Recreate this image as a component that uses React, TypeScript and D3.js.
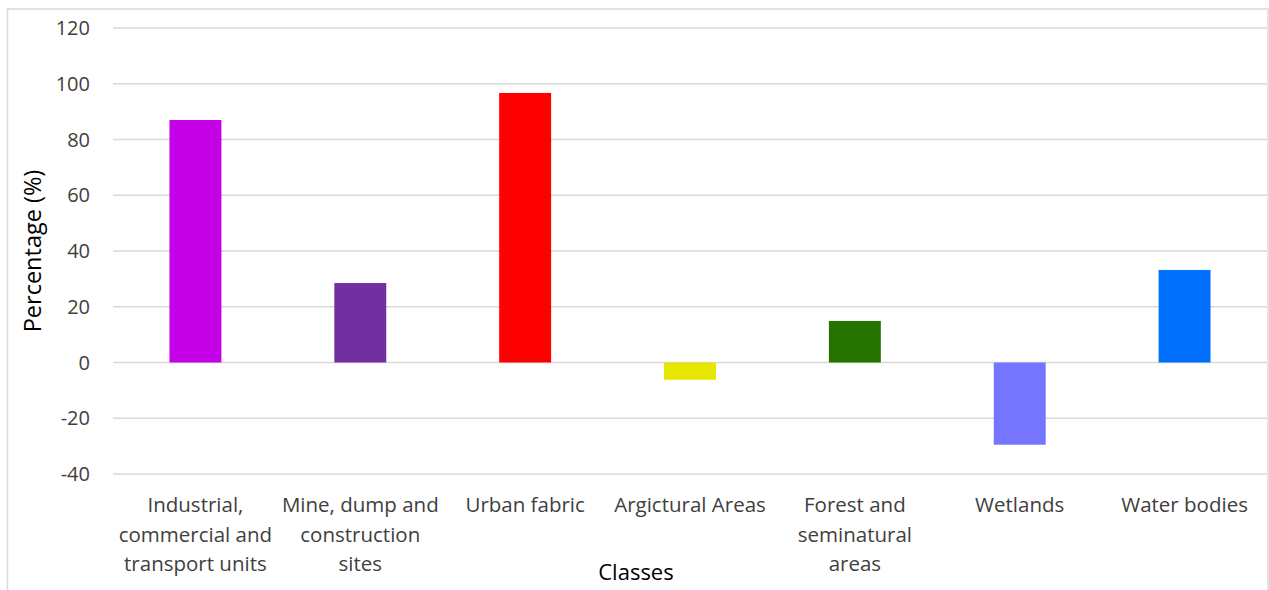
import React from "react";
import * as d3 from "d3";

const categories: string[][] = [
  ["Industrial,", "commercial and", "transport units"],
  ["Mine, dump and", "construction", "sites"],
  ["Urban fabric"],
  ["Argictural Areas"],
  ["Forest and", "seminatural", "areas"],
  ["Wetlands"],
  ["Water bodies"],
];
const values: number[] = [87.0, 28.5, 96.7, -6.2, 14.9, -29.5, 33.2];
const barColors: string[] = ["#C300E6", "#7030A0", "#FF0000", "#E6E600", "#267300", "#7575FF", "#0070FF"];
const yTicks: number[] = [-40, -20, 0, 20, 40, 60, 80, 100, 120];

const W = 1269;
const H = 590;
const FONT = "'Open Sans', Lato, sans-serif";

export default function App() {
  const left = 113;
  const right = 1267;
  const top = 28;
  const bottom = 474;

  const x = d3
    .scaleBand<number>()
    .domain(d3.range(values.length))
    .range([left, right])
    .paddingInner(0.685)
    .paddingOuter(0.3425);
  const y = d3.scaleLinear().domain([-40, 120]).range([bottom, top]);
  const band = (right - left) / values.length;

  return (
    <svg
      width={W}
      height={H}
      style={{ position: "absolute", left: 0, top: 0, background: "#fff" }}
      fontFamily={FONT}
    >
      <rect x={0} y={0} width={W} height={H} fill="#fff" />
      {/* chart frame */}
      <rect x={7.5} y={9} width={1260.5} height={600} fill="none" stroke="#d9d9d9" strokeWidth={1.5} />

      {/* gridlines */}
      {yTicks.map((t) => (
        <line key={"g" + t} x1={left} x2={right} y1={y(t)} y2={y(t)} stroke="#d9d9d9" strokeWidth={1.5} />
      ))}

      {/* y tick labels */}
      {yTicks.map((t) => (
        <text key={"t" + t} x={90} y={y(t)} dy="0.35em" textAnchor="end" fontSize={20} fill="#404040">
          {t}
        </text>
      ))}

      {/* bars */}
      {values.map((v, i) => (
        <rect
          key={"b" + i}
          x={x(i)}
          width={x.bandwidth()}
          y={Math.min(y(v), y(0))}
          height={Math.abs(y(v) - y(0))}
          fill={barColors[i]}
        />
      ))}

      {/* category labels */}
      {categories.map((lines, i) => (
        <text key={"c" + i} textAnchor="middle" fontSize={20.5} fill="#404040">
          {lines.map((ln, j) => (
            <tspan key={j} x={left + band * (i + 0.5)} y={512 + j * 29.5}>
              {ln}
            </tspan>
          ))}
        </text>
      ))}

      {/* axis titles */}
      <text
        transform={`translate(41, ${(top + bottom) / 2}) rotate(-90)`}
        textAnchor="middle"
        fontSize={23.5}
        fill="#000"
      >
        Percentage (%)
      </text>
      <text x={636} y={580} textAnchor="middle" fontSize={22} fill="#000">
        Classes
      </text>
    </svg>
  );
}
